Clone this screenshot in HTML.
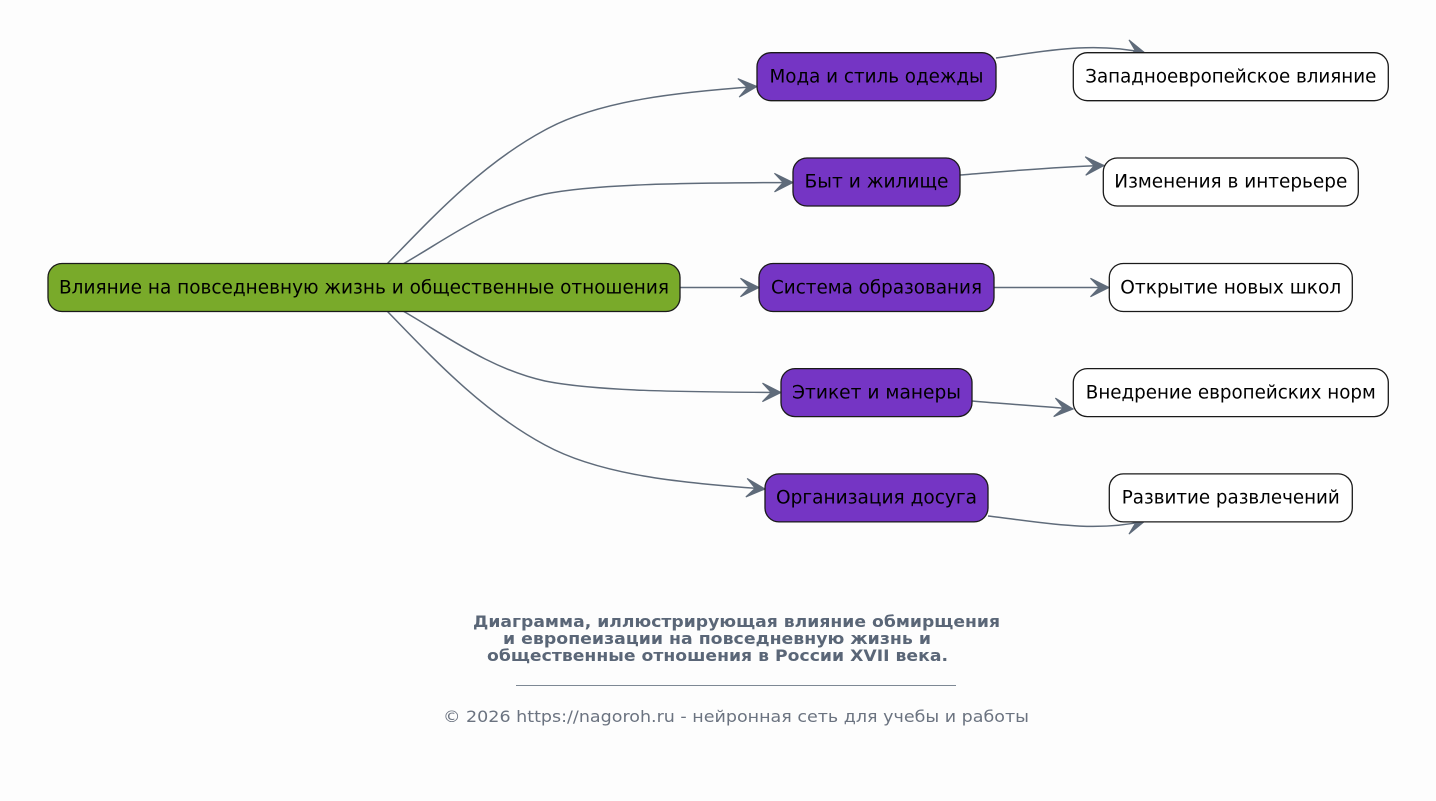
<!DOCTYPE html>
<html>
<head>
<meta charset="utf-8">
<style>
  html, body { margin: 0; padding: 0; background: #fdfdfd; }
  svg { display: block; }
  .n { font-family: "DejaVu Sans", "Liberation Sans", sans-serif; font-size: 18.67px; fill: #000; }
  .t { font-family: "DejaVu Sans", "Liberation Sans", sans-serif; font-size: 16px; font-weight: bold; fill: #5a6677; }
  .f { font-family: "DejaVu Sans", "Liberation Sans", sans-serif; font-size: 16px; fill: #6b7380; }
  .e { fill: none; stroke: #5f6b7a; stroke-width: 1.5; }
  .box { stroke: #1a1a1a; stroke-width: 1.3; }
</style>
</head>
<body>
<svg width="1436" height="801" viewBox="0 0 1436 801" xmlns="http://www.w3.org/2000/svg">
  <defs>
    <marker id="a" markerUnits="userSpaceOnUse" markerWidth="24" markerHeight="24" viewBox="-1 -11 22 22" refX="17" refY="0" orient="auto">
      <path d="M17,0 L0,-8.5 L8,0 L0,8.5 Z" fill="#5f6b7a" stroke="#5f6b7a" stroke-width="1" stroke-linejoin="miter"/>
    </marker>
  </defs>
  <rect x="0" y="0" width="1436" height="801" fill="#fdfdfd"/>

  <!-- edges root -> mid -->
  <path class="e" marker-end="url(#a)" d="M387,264 C430,220 480,165 545,130 C600,100 680,92 757,86.5"/>
  <path class="e" marker-end="url(#a)" d="M403,264 C445,240 490,206 545,194 C595,184 680,183 793,182.5"/>
  <path class="e" marker-end="url(#a)" d="M680,287.5 L759,287.5"/>
  <path class="e" marker-end="url(#a)" d="M403,311 C445,335 490,369 545,381 C595,391 680,392 781,392.5"/>
  <path class="e" marker-end="url(#a)" d="M387,311 C430,355 480,410 545,445 C600,475 680,483 765,489"/>

  <!-- edges mid -> leaf -->
  <path class="e" marker-end="url(#a)" d="M996,58 C1040,52 1092,41 1145,53"/>
  <path class="e" marker-end="url(#a)" d="M960,175 C1000,172 1050,167 1104,165.5"/>
  <path class="e" marker-end="url(#a)" d="M994,287.5 L1109,287.5"/>
  <path class="e" marker-end="url(#a)" d="M972,401 C1005,404 1040,406 1073,409"/>
  <path class="e" marker-end="url(#a)" d="M988,516 C1040,522 1092,533 1145,521"/>

  <!-- root -->
  <rect class="box" x="48" y="263.5" width="632" height="48" rx="14" ry="14" fill="#79aa2a"/>
  <text class="n" x="364" y="293.3" text-anchor="middle" textLength="610" lengthAdjust="spacingAndGlyphs">Влияние на повседневную жизнь и общественные отношения</text>

  <!-- mid nodes -->
  <rect class="box" x="757" y="52.7" width="239" height="48" rx="14" ry="14" fill="#7535c4"/>
  <text class="n" x="876.5" y="82.4" text-anchor="middle" textLength="214" lengthAdjust="spacingAndGlyphs">Мода и стиль одежды</text>

  <rect class="box" x="793" y="158" width="167" height="48" rx="14" ry="14" fill="#7535c4"/>
  <text class="n" x="876.5" y="187.7" text-anchor="middle" textLength="144" lengthAdjust="spacingAndGlyphs">Быт и жилище</text>

  <rect class="box" x="759" y="263.5" width="235" height="48" rx="14" ry="14" fill="#7535c4"/>
  <text class="n" x="876.5" y="293.3" text-anchor="middle" textLength="211" lengthAdjust="spacingAndGlyphs">Система образования</text>

  <rect class="box" x="781" y="368.6" width="191" height="48" rx="14" ry="14" fill="#7535c4"/>
  <text class="n" x="876.5" y="398.4" text-anchor="middle" textLength="169" lengthAdjust="spacingAndGlyphs">Этикет и манеры</text>

  <rect class="box" x="765" y="473.9" width="223" height="48" rx="14" ry="14" fill="#7535c4"/>
  <text class="n" x="876.5" y="503.7" text-anchor="middle" textLength="201" lengthAdjust="spacingAndGlyphs">Организация досуга</text>

  <!-- leaf nodes -->
  <rect class="box" x="1073.3" y="52.7" width="315" height="48" rx="14" ry="14" fill="#ffffff"/>
  <text class="n" x="1230.8" y="82.4" text-anchor="middle" textLength="291" lengthAdjust="spacingAndGlyphs">Западноевропейское влияние</text>

  <rect class="box" x="1103.3" y="158" width="255" height="48" rx="14" ry="14" fill="#ffffff"/>
  <text class="n" x="1230.8" y="187.7" text-anchor="middle" textLength="233" lengthAdjust="spacingAndGlyphs">Изменения в интерьере</text>

  <rect class="box" x="1109.3" y="263.5" width="243" height="48" rx="14" ry="14" fill="#ffffff"/>
  <text class="n" x="1230.8" y="293.3" text-anchor="middle" textLength="221" lengthAdjust="spacingAndGlyphs">Открытие новых школ</text>

  <rect class="box" x="1073.3" y="368.6" width="315" height="48" rx="14" ry="14" fill="#ffffff"/>
  <text class="n" x="1230.8" y="398.4" text-anchor="middle" textLength="290" lengthAdjust="spacingAndGlyphs">Внедрение европейских норм</text>

  <rect class="box" x="1109.3" y="473.9" width="243" height="48" rx="14" ry="14" fill="#ffffff"/>
  <text class="n" x="1230.8" y="503.7" text-anchor="middle" textLength="218" lengthAdjust="spacingAndGlyphs">Развитие развлечений</text>

  <!-- title -->
  <text class="t" x="473" y="627" textLength="527" lengthAdjust="spacingAndGlyphs">Диаграмма, иллюстрирующая влияние обмирщения</text>
  <text class="t" x="503" y="644" textLength="428" lengthAdjust="spacingAndGlyphs">и европеизации на повседневную жизнь и</text>
  <text class="t" x="487" y="661" textLength="461" lengthAdjust="spacingAndGlyphs">общественные отношения в России XVII века.</text>

  <line x1="516" y1="685.5" x2="956" y2="685.5" stroke="#7d8894" stroke-width="1"/>

  <text class="f" x="443" y="722" textLength="586" lengthAdjust="spacingAndGlyphs">© 2026 https://nagoroh.ru - нейронная сеть для учебы и работы</text>
</svg>
</body>
</html>
